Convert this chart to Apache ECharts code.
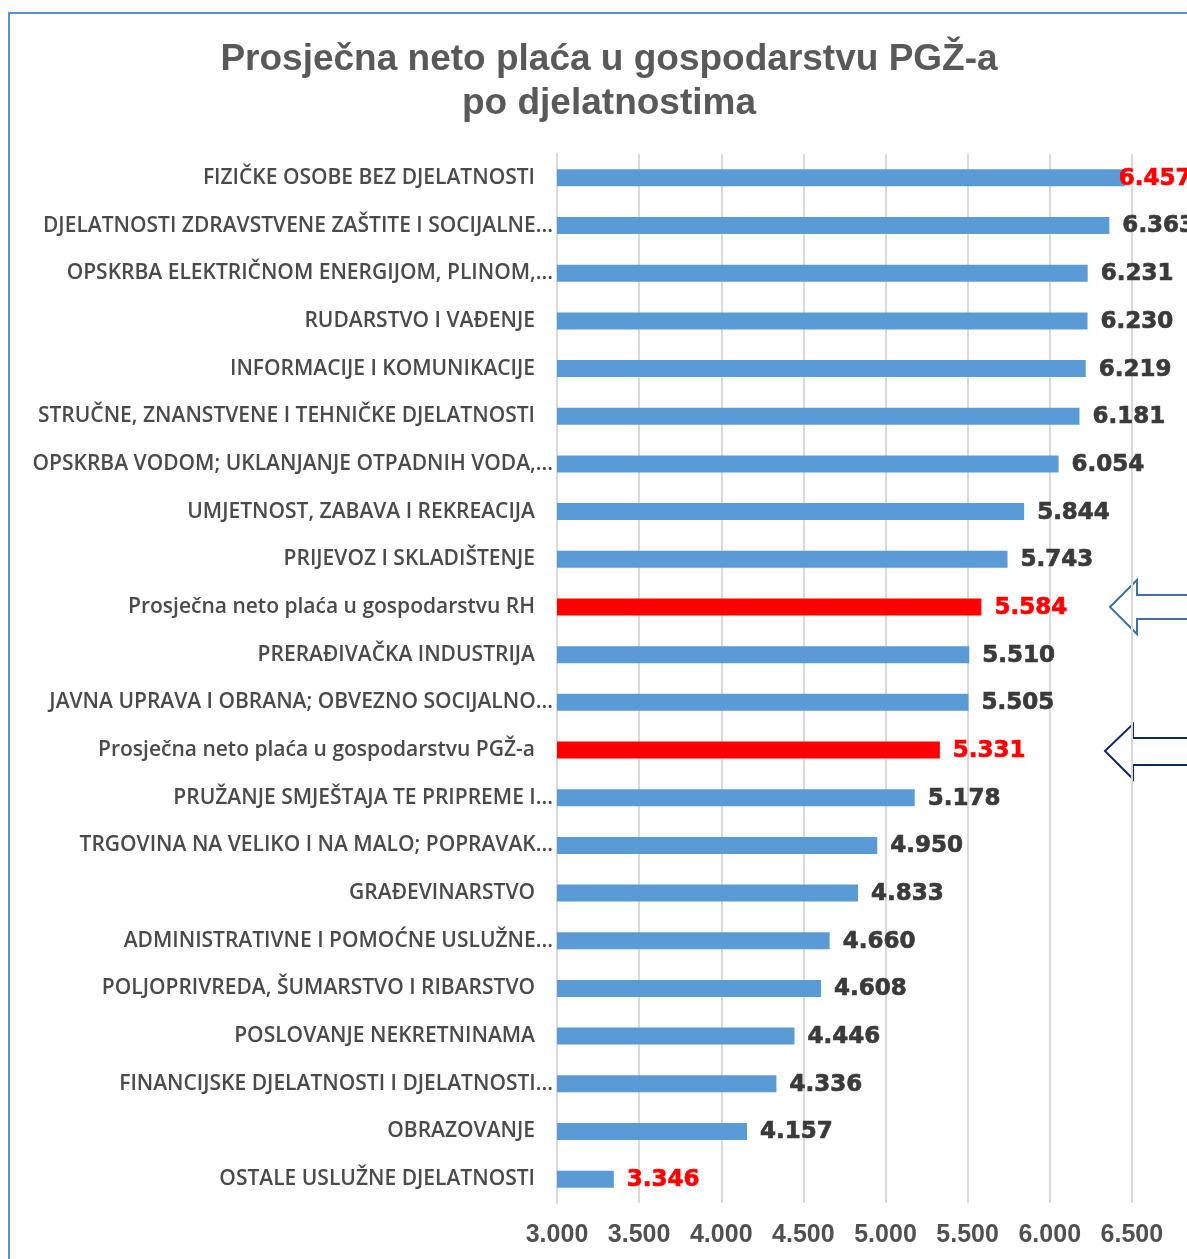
<!DOCTYPE html>
<html>
<head>
<meta charset="utf-8">
<script src="https://cdn.jsdelivr.net/npm/echarts@6/dist/echarts.min.js"></script>
<style>html,body{margin:0;padding:0;background:#fff;}#c{width:1187px;height:1259px;}</style>
</head>
<body>
<div id="c"></div>
<script>
const categories = [
  "FIZIČKE OSOBE BEZ DJELATNOSTI",
  "DJELATNOSTI ZDRAVSTVENE ZAŠTITE I SOCIJALNE...",
  "OPSKRBA ELEKTRIČNOM ENERGIJOM, PLINOM,...",
  "RUDARSTVO I VAĐENJE",
  "INFORMACIJE I KOMUNIKACIJE",
  "STRUČNE, ZNANSTVENE I TEHNIČKE DJELATNOSTI",
  "OPSKRBA VODOM; UKLANJANJE OTPADNIH VODA,...",
  "UMJETNOST, ZABAVA I REKREACIJA",
  "PRIJEVOZ I SKLADIŠTENJE",
  "Prosječna neto plaća u gospodarstvu RH",
  "PRERAĐIVAČKA INDUSTRIJA",
  "JAVNA UPRAVA I OBRANA; OBVEZNO SOCIJALNO...",
  "Prosječna neto plaća u gospodarstvu PGŽ-a",
  "PRUŽANJE SMJEŠTAJA TE PRIPREME I...",
  "TRGOVINA NA VELIKO I NA MALO; POPRAVAK...",
  "GRAĐEVINARSTVO",
  "ADMINISTRATIVNE I POMOĆNE USLUŽNE...",
  "POLJOPRIVREDA, ŠUMARSTVO I RIBARSTVO",
  "POSLOVANJE NEKRETNINAMA",
  "FINANCIJSKE DJELATNOSTI I DJELATNOSTI...",
  "OBRAZOVANJE",
  "OSTALE USLUŽNE DJELATNOSTI"
];
const values = [6457, 6363, 6231, 6230, 6219, 6181, 6054, 5844, 5743, 5584, 5510, 5505, 5331, 5178, 4950, 4833, 4660, 4608, 4446, 4336, 4157, 3346];
const redBars = ["Prosječna neto plaća u gospodarstvu RH", "Prosječna neto plaća u gospodarstvu PGŽ-a"];
const redLabels = ["FIZIČKE OSOBE BEZ DJELATNOSTI", "Prosječna neto plaća u gospodarstvu RH", "Prosječna neto plaća u gospodarstvu PGŽ-a", "OSTALE USLUŽNE DJELATNOSTI"];
const axisMin = 3000, axisMax = 7000, axisStep = 500;
const titleLines = ["Prosječna neto plaća u gospodarstvu PGŽ-a", "po djelatnostima"];

const fmt = v => String(v).replace(/\B(?=(\d{3})+(?!\d))/g, '.');

const seriesData = categories.map((c, i) => {
  const col = redLabels.includes(c) ? '#FF0000' : '#3A3A3A';
  const d = {
    value: values[i],
    itemStyle: { color: redBars.includes(c) ? '#FF0000' : '#5B9BD5' },
    label: { color: col, textBorderColor: col, textBorderWidth: 0.7 }
  };
  if (i === 0) d.label.offset = [-19, 1];
  return d;
});

const chart = echarts.init(document.getElementById('c'), null, { renderer: 'canvas' });
chart.setOption({
  backgroundColor: '#ffffff',
  animation: false,
  title: {
    text: titleLines.join('\n'),
    left: 604, top: 33, textAlign: 'center',
    textStyle: { fontFamily: 'Liberation Sans, Arial, sans-serif', fontWeight: 'bold', fontSize: 37, color: '#595959', lineHeight: 44 }
  },
  grid: { left: 557, right: -27, top: 154, bottom: 56, containLabel: false, outerBoundsMode: 'none' },
  xAxis: {
    type: 'value', min: axisMin, max: axisMax, interval: axisStep,
    axisLine: { show: false }, axisTick: { show: false },
    splitLine: { show: true, lineStyle: { color: '#D9D9D9', width: 2 } },
    axisLabel: {
      formatter: v => v > 6500 ? '' : fmt(v),
      showMinLabel: true, hideOverlap: false,
      fontFamily: 'Liberation Sans, Arial, sans-serif',
      fontWeight: 'bold', fontSize: 25, color: '#505050', margin: 20
    }
  },
  yAxis: {
    type: 'category', data: categories, inverse: true,
    axisLine: { show: true, lineStyle: { color: '#D9D9D9', width: 2 } },
    axisTick: { show: false },
    axisLabel: {
      margin: 4,
      formatter: v => v.endsWith('...') ? '{t|' + v + '}' : '{t|' + v + '}{s|}',
      rich: {
        t: { fontFamily: 'Open Sans, sans-serif', fontWeight: 600, fontSize: 21, color: '#4A4A4A' },
        s: { width: 18 }
      }
    }
  },
  series: [{
    type: 'bar', data: seriesData, barWidth: 17,
    label: {
      show: true, position: 'right', distance: 13, offset: [0, 1],
      formatter: p => fmt(p.value),
      fontFamily: 'DejaVu Sans, sans-serif', fontWeight: 'bold', fontSize: 23
    }
  }],
  graphic: [
    { type: 'rect', shape: { x: 9, y: 13, width: 1300, height: 1400 }, style: { fill: 'none', stroke: '#5B8ED6', lineWidth: 2 }, silent: true },
    { type: 'polygon', shape: { points: [[1110, 607], [1137, 580], [1137, 595], [1200, 595], [1200, 619], [1137, 619], [1137, 634]] },
      style: { fill: '#ffffff', stroke: '#41719C', lineWidth: 2 }, silent: true },
    { type: 'polygon', shape: { points: [[1105, 751], [1133, 724], [1133, 738], [1200, 738], [1200, 765], [1133, 765], [1133, 779]] },
      style: { fill: '#ffffff', stroke: '#0E2A5C', lineWidth: 2 }, silent: true }
  ]
});
</script>
</body>
</html>
